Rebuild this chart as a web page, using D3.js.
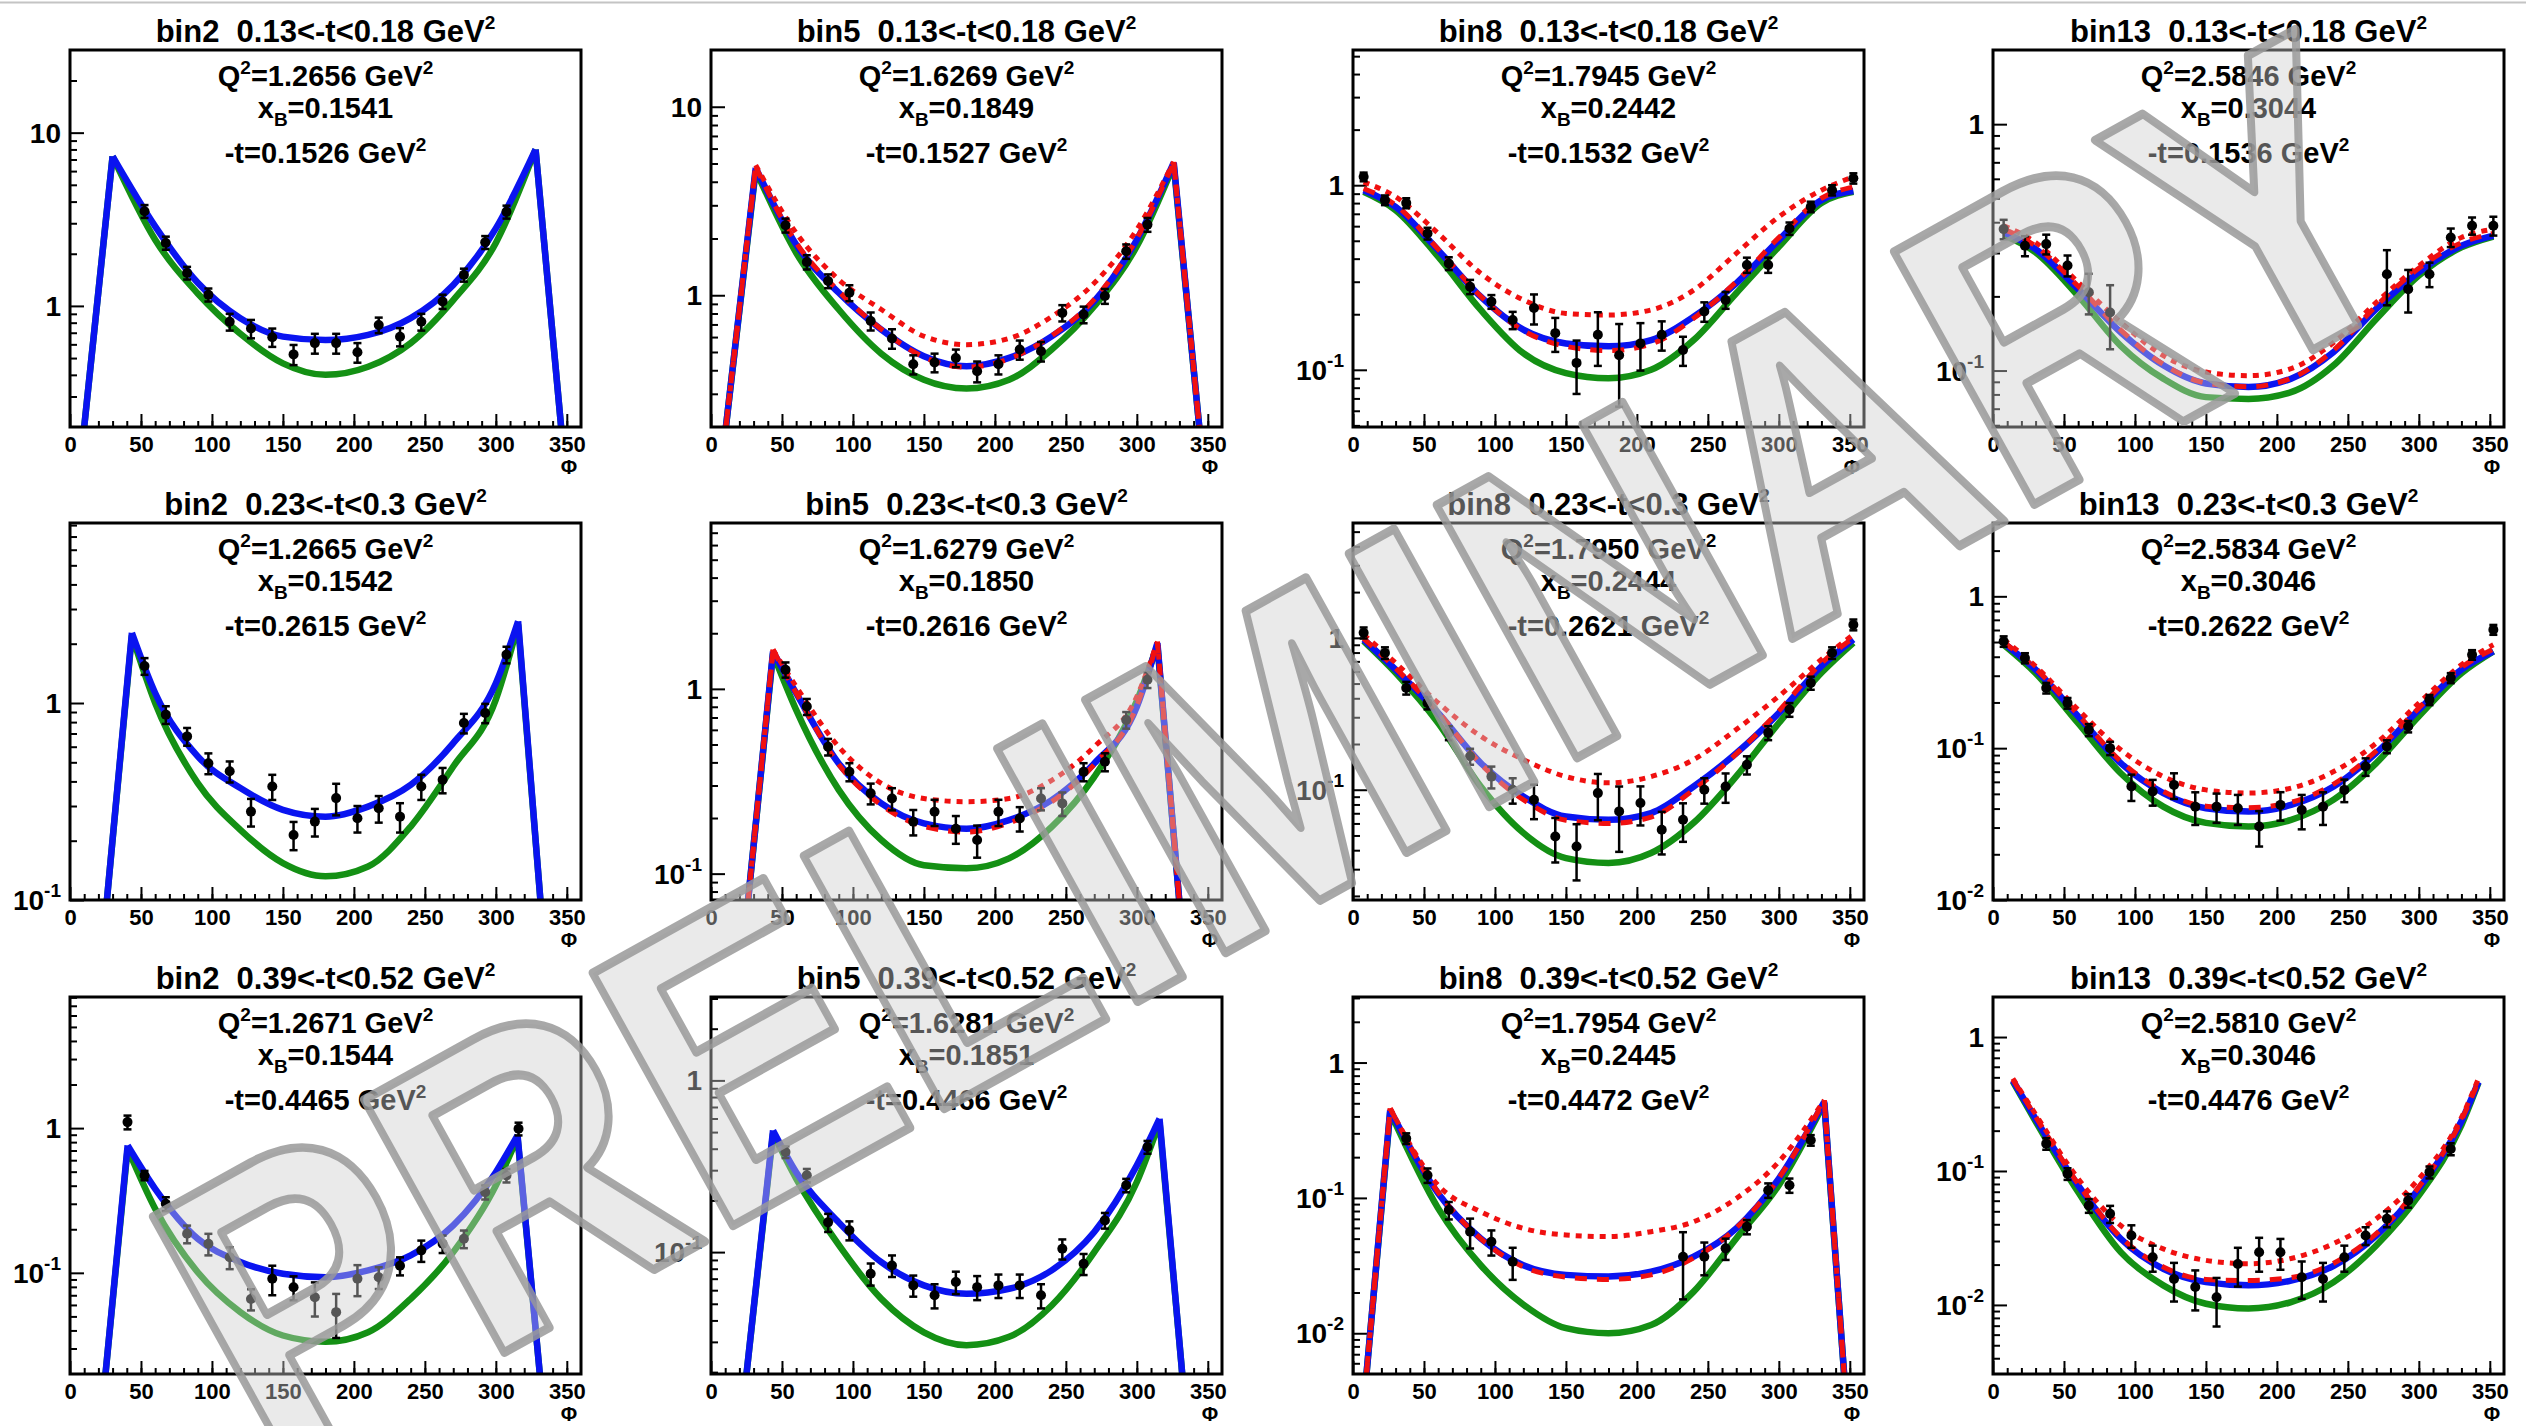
<!DOCTYPE html>
<html>
<head>
<meta charset="utf-8">
<script src="https://cdn.jsdelivr.net/npm/d3@7"></script>
<style>
body { margin: 0; background: #fff; }
svg text { font-family: "Liberation Sans", Arial, Helvetica, sans-serif; font-weight: bold; }
</style>
</head>
<body>
<svg id="chart" width="2526" height="1426"></svg>
<script>
// ---- labels ----
var binNames = ["bin2", "bin5", "bin8", "bin13"];
var tRanges = ["0.13<-t<0.18", "0.23<-t<0.3", "0.39<-t<0.52"];
var q2Vals = ["1.2656", "1.6269", "1.7945", "2.5846",
              "1.2665", "1.6279", "1.7950", "2.5834",
              "1.2671", "1.6281", "1.7954", "2.5810"];
var xbVals = ["0.1541", "0.1849", "0.2442", "0.3044",
              "0.1542", "0.1850", "0.2444", "0.3046",
              "0.1544", "0.1851", "0.2445", "0.3046"];
var tVals = ["0.1526", "0.1527", "0.1532", "0.1536",
             "0.2615", "0.2616", "0.2621", "0.2622",
             "0.4465", "0.4466", "0.4472", "0.4476"];

// y axis ranges (log), row major
var yDomains = [[0.2, 30], [0.2, 20], [0.049, 5.4], [0.059, 2.0],
                [0.1, 8.2], [0.072, 7.9], [0.0188, 5.7], [0.01, 3.04],
                [0.02, 8.05], [0.0195, 3.06], [0.005, 3.05], [0.00305, 1.99]];
var xTicks = [0, 50, 100, 150, 200, 250, 300, 350];

// ---- data points ----
var phi18 = [52.5, 67.5, 82.5, 97.5, 112.5, 127.5, 142.5, 157.5, 172.5, 187.5, 202.5, 217.5, 232.5, 247.5, 262.5, 277.5, 292.5, 307.5];
var phi24 = [7.5, 22.5, 37.5, 52.5, 67.5, 82.5, 97.5, 112.5, 127.5, 142.5, 157.5, 172.5, 187.5, 202.5, 217.5, 232.5, 247.5, 262.5, 277.5, 292.5, 307.5, 322.5, 337.5, 352.5];
var phiB13T1 = [7.5, 22.5, 37.5, 52.5, 67.5, 82.5, 277.5, 292.5, 307.5, 322.5, 337.5, 352.5];
var phiB2T3 = [40.5, 52.5, 67.5, 82.5, 97.5, 112.5, 127.5, 142.5, 157.5, 172.5, 187.5, 202.5, 217.5, 232.5, 247.5, 262.5, 277.5, 292.5, 307.5, 316];
var phiB8T3 = [37.5, 52.5, 67.5, 82.5, 97.5, 112.5, 232.5, 247.5, 262.5, 277.5, 292.5, 307.5, 322.5];
var phiB13T3 = [37.5, 52.5, 67.5, 82.5, 97.5, 112.5, 127.5, 142.5, 157.5, 172.5, 187.5, 202.5, 217.5, 232.5, 247.5, 262.5, 277.5, 292.5, 307.5, 322.5];

var valB2T1 = [3.52, 2.31, 1.55, 1.16, 0.81, 0.74, 0.66, 0.525, 0.61, 0.61, 0.54, 0.776, 0.664, 0.81, 1.06, 1.51, 2.33, 3.49];
var errB2T1 = [0.3, 0.2, 0.13, 0.1, 0.09, 0.09, 0.08, 0.07, 0.08, 0.08, 0.07, 0.08, 0.08, 0.09, 0.1, 0.13, 0.2, 0.3];
var valB5T1 = [2.35, 1.50, 1.19, 1.03, 0.73, 0.59, 0.43, 0.44, 0.465, 0.395, 0.43, 0.515, 0.505, 0.806, 0.79, 0.99, 1.71, 2.37];
var errB5T1 = [0.2, 0.13, 0.1, 0.1, 0.08, 0.07, 0.05, 0.05, 0.05, 0.05, 0.05, 0.06, 0.06, 0.08, 0.08, 0.09, 0.15, 0.2];
var valB8T1 = [1.11, 0.83, 0.80, 0.548, 0.377, 0.282, 0.234, 0.186, 0.216, 0.158, 0.109, 0.155, 0.12, 0.139, 0.155, 0.128, 0.207, 0.239, 0.37, 0.37, 0.583, 0.764, 0.94, 1.09];
var errB8T1 = [0.06, 0.05, 0.05, 0.04, 0.03, 0.025, 0.02, 0.02, 0.04, 0.033, 0.035, 0.05, 0.057, 0.04, 0.028, 0.023, 0.025, 0.025, 0.035, 0.035, 0.045, 0.05, 0.06, 0.07];
var valB13T1 = [0.375, 0.321, 0.326, 0.267, 0.208, 0.172, 0.246, 0.214, 0.246, 0.347, 0.387, 0.387];
var errB13T1 = [0.034, 0.03, 0.03, 0.026, 0.039, 0.05, 0.062, 0.042, 0.028, 0.03, 0.031, 0.034];

var valB2T2 = [1.54, 0.873, 0.677, 0.495, 0.45, 0.281, 0.377, 0.214, 0.25, 0.329, 0.26, 0.292, 0.265, 0.377, 0.408, 0.791, 0.89, 1.76];
var errB2T2 = [0.15, 0.09, 0.07, 0.06, 0.055, 0.045, 0.055, 0.035, 0.04, 0.06, 0.04, 0.045, 0.045, 0.055, 0.06, 0.09, 0.1, 0.17];
var valB5T2 = [1.27, 0.802, 0.486, 0.356, 0.272, 0.255, 0.191, 0.216, 0.175, 0.152, 0.216, 0.199, 0.255, 0.24, 0.356, 0.403, 0.679, 1.12];
var errB5T2 = [0.12, 0.08, 0.05, 0.04, 0.035, 0.035, 0.03, 0.035, 0.03, 0.03, 0.035, 0.03, 0.035, 0.035, 0.04, 0.045, 0.07, 0.11];
var valB8T2 = [1.08, 0.796, 0.468, 0.373, 0.237, 0.166, 0.122, 0.1, 0.086, 0.0492, 0.0423, 0.095, 0.072, 0.0817, 0.0545, 0.0634, 0.1, 0.105, 0.146, 0.237, 0.337, 0.505, 0.796, 1.22];
var errB8T2 = [0.09, 0.07, 0.045, 0.035, 0.025, 0.02, 0.02, 0.019, 0.022, 0.016, 0.017, 0.032, 0.033, 0.0235, 0.017, 0.018, 0.019, 0.023, 0.02, 0.025, 0.035, 0.05, 0.07, 0.1];
var valB13T2 = [0.505, 0.392, 0.249, 0.198, 0.132, 0.1, 0.0559, 0.0518, 0.0573, 0.0412, 0.0412, 0.0402, 0.0305, 0.0423, 0.0392, 0.0412, 0.0531, 0.0757, 0.1026, 0.139, 0.208, 0.29, 0.412, 0.603];
var errB13T2 = [0.04, 0.03, 0.02, 0.016, 0.012, 0.01, 0.011, 0.01, 0.011, 0.01, 0.009, 0.009, 0.008, 0.009, 0.01, 0.01, 0.009, 0.01, 0.01, 0.012, 0.016, 0.022, 0.03, 0.045];

var valB2T3 = [1.1, 0.471, 0.3, 0.186, 0.159, 0.128, 0.066, 0.091, 0.0796, 0.0679, 0.0535, 0.091, 0.0933, 0.112, 0.143, 0.159, 0.172, 0.361, 0.471, 0.99];
var errB2T3 = [0.12, 0.035, 0.033, 0.026, 0.027, 0.022, 0.011, 0.021, 0.015, 0.018, 0.018, 0.022, 0.016, 0.016, 0.024, 0.022, 0.024, 0.04, 0.05, 0.1];
var valB5T3 = [0.383, 0.28, 0.149, 0.134, 0.0748, 0.0836, 0.064, 0.056, 0.0669, 0.0625, 0.064, 0.064, 0.056, 0.1045, 0.0855, 0.153, 0.245, 0.409];
var errB5T3 = [0.03, 0.025, 0.018, 0.017, 0.011, 0.012, 0.009, 0.009, 0.01, 0.01, 0.01, 0.01, 0.009, 0.014, 0.012, 0.016, 0.022, 0.035];
var valB8T3 = [0.275, 0.147, 0.0813, 0.0563, 0.0475, 0.0338, 0.0368, 0.0368, 0.0424, 0.0612, 0.114, 0.124, 0.267];
var errB8T3 = [0.025, 0.018, 0.012, 0.014, 0.01, 0.009, 0.019, 0.01, 0.0076, 0.0074, 0.014, 0.015, 0.024];
var valB13T3 = [0.16, 0.0953, 0.0552, 0.0479, 0.033, 0.0227, 0.0156, 0.0136, 0.0114, 0.0202, 0.0247, 0.0247, 0.0161, 0.0156, 0.0227, 0.033, 0.044, 0.0602, 0.098, 0.146];
var errB13T3 = [0.016, 0.0095, 0.0065, 0.007, 0.0063, 0.005, 0.005, 0.0045, 0.0045, 0.0065, 0.007, 0.0064, 0.005, 0.005, 0.005, 0.005, 0.006, 0.007, 0.01, 0.015];

// ---- model curves (green, blue, red dotted, red dashed) ----
var cphiSmooth = [7.5, 30, 60, 90, 120, 150, 180, 210, 240, 270, 300, 330, 352.5];

var cphiB2T1 = [10, 30, 60, 90, 120, 150, 180, 210, 240, 270, 300, 328, 346];
var blueB2T1 = [0.2, 7.3, 2.88, 1.36, 0.85, 0.665, 0.635, 0.68, 0.85, 1.32, 2.8, 8.0, 0.2];
var greenB2T1 = [0.2, 7.3, 2.41, 1.18, 0.69, 0.466, 0.40, 0.445, 0.61, 1.08, 2.31, 8.0, 0.2];

var cphiB5T1 = [10.5, 31.5, 60, 90, 120, 150, 180, 210, 240, 270, 300, 326, 344];
var blueB5T1 = [0.2, 4.74, 1.86, 1.03, 0.657, 0.475, 0.42, 0.465, 0.605, 0.93, 1.97, 5.05, 0.2];
var greenB5T1 = [0.2, 4.6, 1.68, 0.84, 0.49, 0.356, 0.32, 0.356, 0.515, 0.874, 1.82, 4.9, 0.2];
var rdotB5T1 = [0.2, 4.9, 2.14, 1.21, 0.84, 0.606, 0.547, 0.59, 0.77, 1.16, 2.23, 5.1, 0.2];
var rdashB5T1 = [0.2, 4.8, 1.9, 1.05, 0.66, 0.47, 0.415, 0.46, 0.61, 0.95, 2.0, 5.05, 0.2];

var blueB8T1 = [0.94, 0.764, 0.445, 0.249, 0.165, 0.139, 0.134, 0.145, 0.194, 0.294, 0.504, 0.83, 0.93];
var greenB8T1 = [0.92, 0.733, 0.41, 0.211, 0.123, 0.096, 0.09, 0.1, 0.145, 0.26, 0.464, 0.8, 0.92];
var rdotB8T1 = [1.04, 0.865, 0.548, 0.333, 0.239, 0.202, 0.198, 0.211, 0.27, 0.427, 0.674, 0.94, 1.11];
var rdashB8T1 = [0.96, 0.78, 0.45, 0.25, 0.163, 0.134, 0.127, 0.138, 0.19, 0.30, 0.52, 0.85, 0.98];

var blueB13T1 = [0.364, 0.311, 0.214, 0.143, 0.105, 0.0886, 0.0857, 0.0927, 0.119, 0.178, 0.251, 0.321, 0.353];
var greenB13T1 = [0.355, 0.302, 0.201, 0.126, 0.0927, 0.078, 0.0767, 0.0817, 0.105, 0.162, 0.243, 0.316, 0.35];
var rdotB13T1 = [0.387, 0.331, 0.228, 0.157, 0.115, 0.0986, 0.0953, 0.1018, 0.13, 0.189, 0.266, 0.347, 0.375];
var rdashB13T1 = [0.375, 0.32, 0.22, 0.146, 0.106, 0.089, 0.086, 0.093, 0.121, 0.183, 0.26, 0.33, 0.36];

var cphiB2T2 = [26, 43.6, 60, 90, 120, 150, 180, 210, 240, 270, 300, 315.7, 331.4];
var blueB2T2 = [0.1, 2.27, 1.124, 0.536, 0.37, 0.287, 0.265, 0.298, 0.384, 0.626, 1.26, 2.6, 0.1];
var greenB2T2 = [0.1, 2.2, 1.0, 0.392, 0.227, 0.154, 0.132, 0.148, 0.236, 0.476, 1.04, 2.5, 0.1];

var cphiB5T2 = [26, 43.7, 60, 90, 120, 150, 180, 210, 240, 270, 300, 314.5, 330];
var blueB5T2 = [0.07, 1.59, 0.947, 0.395, 0.24, 0.187, 0.175, 0.195, 0.25, 0.395, 0.8, 1.77, 0.07];
var greenB5T2 = [0.07, 1.55, 0.77, 0.284, 0.152, 0.111, 0.107, 0.121, 0.179, 0.334, 0.86, 1.72, 0.07];
var rdotB5T2 = [0.07, 1.63, 1.03, 0.486, 0.308, 0.255, 0.245, 0.255, 0.32, 0.486, 0.909, 1.8, 0.07];
var rdashB5T2 = [0.07, 1.63, 0.95, 0.39, 0.235, 0.18, 0.168, 0.188, 0.245, 0.39, 0.81, 1.8, 0.07];

var blueB8T2 = [0.975, 0.618, 0.32, 0.15, 0.0901, 0.0667, 0.0634, 0.0702, 0.105, 0.174, 0.32, 0.65, 0.975];
var greenB8T2 = [0.95, 0.588, 0.275, 0.105, 0.052, 0.0355, 0.033, 0.0383, 0.0606, 0.1225, 0.275, 0.588, 0.927];
var rdotB8T2 = [1.05, 0.684, 0.373, 0.225, 0.158, 0.122, 0.111, 0.122, 0.158, 0.249, 0.413, 0.72, 1.05];
var rdashB8T2 = [0.99, 0.63, 0.325, 0.148, 0.086, 0.063, 0.06, 0.066, 0.1, 0.172, 0.33, 0.68, 1.0];

var blueB13T2 = [0.493, 0.329, 0.162, 0.0797, 0.0506, 0.0402, 0.0382, 0.0423, 0.0559, 0.093, 0.179, 0.329, 0.434];
var greenB13T2 = [0.48, 0.312, 0.146, 0.0684, 0.0412, 0.0322, 0.0305, 0.0337, 0.0458, 0.0797, 0.162, 0.312, 0.434];
var rdotB13T2 = [0.52, 0.346, 0.179, 0.0975, 0.065, 0.0531, 0.0506, 0.0545, 0.0701, 0.108, 0.198, 0.354, 0.48];
var rdashB13T2 = [0.5, 0.335, 0.166, 0.082, 0.052, 0.0415, 0.0405, 0.044, 0.058, 0.096, 0.184, 0.34, 0.45];

var cphiB2T3 = [25, 40.6, 60, 90, 120, 150, 180, 210, 240, 270, 300, 315.3, 331];
var blueB2T3 = [0.02, 0.759, 0.381, 0.172, 0.119, 0.0986, 0.0933, 0.104, 0.132, 0.213, 0.496, 0.89, 0.02];
var greenB2T3 = [0.02, 0.72, 0.277, 0.101, 0.0536, 0.0369, 0.0334, 0.0389, 0.0661, 0.139, 0.401, 0.86, 0.02];

var cphiB5T3 = [25, 43.7, 60, 90, 120, 150, 180, 210, 240, 270, 300, 316, 332];
var blueB5T3 = [0.0195, 0.511, 0.292, 0.149, 0.0873, 0.064, 0.0572, 0.0612, 0.0783, 0.131, 0.32, 0.598, 0.0195];
var greenB5T3 = [0.0195, 0.49, 0.268, 0.11, 0.0534, 0.0341, 0.0287, 0.0321, 0.0489, 0.1, 0.256, 0.57, 0.0195];

var cphiB8T3 = [9.5, 26.2, 60, 90, 120, 150, 180, 210, 240, 270, 300, 332, 346];
var blueB8T3 = [0.005, 0.445, 0.108, 0.0502, 0.0318, 0.027, 0.0263, 0.0285, 0.0368, 0.0596, 0.139, 0.513, 0.005];
var greenB8T3 = [0.005, 0.43, 0.0837, 0.0318, 0.0163, 0.0109, 0.01, 0.0115, 0.0203, 0.0502, 0.124, 0.5, 0.005];
var rdotB8T3 = [0.005, 0.458, 0.124, 0.0791, 0.0596, 0.0532, 0.0518, 0.0563, 0.0667, 0.099, 0.185, 0.527, 0.005];
var rdashB8T3 = [0.005, 0.458, 0.11, 0.05, 0.031, 0.026, 0.025, 0.027, 0.036, 0.06, 0.14, 0.527, 0.005];

var cphiB13T3 = [14, 30, 60, 90, 120, 150, 180, 210, 240, 270, 300, 330, 342];
var blueB13T3 = [0.474, 0.245, 0.0782, 0.0312, 0.0186, 0.0148, 0.014, 0.0152, 0.0196, 0.033, 0.0739, 0.235, 0.461];
var greenB13T3 = [0.465, 0.235, 0.0696, 0.0248, 0.014, 0.0102, 0.0094, 0.0105, 0.0148, 0.0278, 0.0657, 0.22, 0.455];
var rdotB13T3 = [0.49, 0.265, 0.0875, 0.0392, 0.0262, 0.0215, 0.0203, 0.0222, 0.0287, 0.044, 0.0875, 0.25, 0.49];
var rdashB13T3 = [0.48, 0.255, 0.08, 0.032, 0.0192, 0.0155, 0.0152, 0.016, 0.0205, 0.034, 0.076, 0.24, 0.47];

// panel table built from the arrays above (row major)
var panels = [
  {phi: phi18, val: valB2T1, err: errB2T1, cphi: cphiB2T1, peaked: true, green: greenB2T1, blue: blueB2T1},
  {phi: phi18, val: valB5T1, err: errB5T1, cphi: cphiB5T1, peaked: true, green: greenB5T1, blue: blueB5T1, rdot: rdotB5T1, rdash: rdashB5T1},
  {phi: phi24, val: valB8T1, err: errB8T1, cphi: cphiSmooth, peaked: false, green: greenB8T1, blue: blueB8T1, rdot: rdotB8T1, rdash: rdashB8T1},
  {phi: phiB13T1, val: valB13T1, err: errB13T1, cphi: cphiSmooth, peaked: false, green: greenB13T1, blue: blueB13T1, rdot: rdotB13T1, rdash: rdashB13T1},
  {phi: phi18, val: valB2T2, err: errB2T2, cphi: cphiB2T2, peaked: true, green: greenB2T2, blue: blueB2T2},
  {phi: phi18, val: valB5T2, err: errB5T2, cphi: cphiB5T2, peaked: true, green: greenB5T2, blue: blueB5T2, rdot: rdotB5T2, rdash: rdashB5T2},
  {phi: phi24, val: valB8T2, err: errB8T2, cphi: cphiSmooth, peaked: false, green: greenB8T2, blue: blueB8T2, rdot: rdotB8T2, rdash: rdashB8T2},
  {phi: phi24, val: valB13T2, err: errB13T2, cphi: cphiSmooth, peaked: false, green: greenB13T2, blue: blueB13T2, rdot: rdotB13T2, rdash: rdashB13T2},
  {phi: phiB2T3, val: valB2T3, err: errB2T3, cphi: cphiB2T3, peaked: true, green: greenB2T3, blue: blueB2T3},
  {phi: phi18, val: valB5T3, err: errB5T3, cphi: cphiB5T3, peaked: true, green: greenB5T3, blue: blueB5T3},
  {phi: phiB8T3, val: valB8T3, err: errB8T3, cphi: cphiB8T3, peaked: true, green: greenB8T3, blue: blueB8T3, rdot: rdotB8T3, rdash: rdashB8T3},
  {phi: phiB13T3, val: valB13T3, err: errB13T3, cphi: cphiB13T3, peaked: false, green: greenB13T3, blue: blueB13T3, rdot: rdotB13T3, rdash: rdashB13T3}
];

// ---- layout ----
var colX = [70, 711, 1353, 1993],
    rowY = [50, 523, 997],
    frameW = 511,
    frameH = 377;

var svg = d3.select("#chart");

svg.append("line")
  .attr("x1", 0).attr("x2", 2526).attr("y1", 2.5).attr("y2", 2.5)
  .style("stroke", "#c4c4c4").style("stroke-width", 2);

function addSup(sel, s, up) {
  sel.append("tspan").attr("dy", -(up || 12)).style("font-size", "19px").text(s);
}

panels.forEach(function(p, i) {
  var col = i % 4, row = Math.floor(i / 4);
  var g = svg.append("g").attr("transform", "translate(" + colX[col] + "," + rowY[row] + ")");

  var x = d3.scaleLinear().domain([0, 360]).range([0, frameW]);
  var y = d3.scaleLog().domain(yDomains[i]).range([frameH, 0]);

  g.append("clipPath").attr("id", "clip" + i)
    .append("rect").attr("width", frameW).attr("height", frameH);

  // axes (ticks inside the frame)
  var xMinor = g.append("g").attr("transform", "translate(0," + frameH + ")")
    .call(d3.axisBottom(x).tickValues(d3.range(10, 360, 10)).tickSize(-6).tickFormat(""));
  var xMajor = g.append("g").attr("transform", "translate(0," + frameH + ")")
    .call(d3.axisBottom(x).tickValues(xTicks).tickSize(-13).tickPadding(9).tickFormat(d3.format("d")));
  xMajor.selectAll("text").style("font-size", "22px").style("fill", "#000");
  [xMinor, xMajor].forEach(function(a) {
    a.select(".domain").remove();
    a.selectAll("line").style("stroke", "#000").style("stroke-width", 2);
  });

  var dom = yDomains[i];
  var lo = Math.floor(Math.log10(dom[0])), hi = Math.ceil(Math.log10(dom[1]));
  var decades = [], minors = [];
  for (var e = lo; e <= hi; e++) {
    var b = Math.pow(10, e);
    if (b >= dom[0] * 0.999 && b <= dom[1]) decades.push(b);
    for (var m = 2; m <= 9; m++) {
      var v = m * b;
      if (v > dom[0] && v < dom[1]) minors.push(v);
    }
  }
  var yMinor = g.append("g").call(d3.axisLeft(y).tickValues(minors).tickSize(-7).tickFormat(""));
  var yMajor = g.append("g").call(d3.axisLeft(y).tickValues(decades).tickSize(-14).tickFormat(""));
  [yMinor, yMajor].forEach(function(a) {
    a.select(".domain").remove();
    a.selectAll("line").style("stroke", "#000").style("stroke-width", 2);
  });
  decades.forEach(function(d) {
    var e = Math.round(Math.log10(d));
    var t = g.append("text").attr("x", -9).attr("y", y(d)).attr("dy", "0.36em")
      .attr("text-anchor", "end").style("font-size", "28px");
    if (e === 0) t.text("1");
    else if (e === 1) t.text("10");
    else { t.append("tspan").text("10"); addSup(t, String(e), 13); }
  });

  g.append("text").attr("x", frameW - 12).attr("y", frameH + 47)
    .attr("text-anchor", "middle").style("font-size", "20px").text("\u03A6");

  // model curves
  var line = d3.line().x(function(d) { return x(d[0]); }).y(function(d) { return y(d[1]); });
  function curvePath(vals) {
    var pts = p.cphi.map(function(f, k) { return [f, vals[k]]; });
    if (!p.peaked) return line.curve(d3.curveMonotoneX)(pts);
    var n = pts.length;
    return line.curve(d3.curveLinear)(pts.slice(0, 2)) +
           line.curve(d3.curveMonotoneX)(pts.slice(1, n - 1)) +
           line.curve(d3.curveLinear)(pts.slice(n - 2));
  }
  var curves = g.append("g").attr("clip-path", "url(#clip" + i + ")");
  curves.append("path").attr("d", curvePath(p.green))
    .style("fill", "none").style("stroke", "#149014").style("stroke-width", 6.5).style("stroke-linejoin", "round");
  curves.append("path").attr("d", curvePath(p.blue))
    .style("fill", "none").style("stroke", "#0a14f0").style("stroke-width", 6.5).style("stroke-linejoin", "round");
  if (p.rdot) {
    curves.append("path").attr("d", curvePath(p.rdot))
      .style("fill", "none").style("stroke", "#f01010").style("stroke-width", 5).style("stroke-dasharray", "6,6");
    curves.append("path").attr("d", curvePath(p.rdash))
      .style("fill", "none").style("stroke", "#f01010").style("stroke-width", 5).style("stroke-dasharray", "12,10");
  }

  // data points with error bars
  var pts = g.append("g");
  p.phi.forEach(function(f, k) {
    var cx = x(f), v = p.val[k], er = p.err[k];
    var y1 = y(v + er), y2 = y(Math.max(v - er, dom[0] * 0.5));
    pts.append("line").attr("x1", cx).attr("x2", cx).attr("y1", y1).attr("y2", y2)
      .style("stroke", "#000").style("stroke-width", 2.5);
    [y1, y2].forEach(function(yy) {
      pts.append("line").attr("x1", cx - 4).attr("x2", cx + 4).attr("y1", yy).attr("y2", yy)
        .style("stroke", "#000").style("stroke-width", 2.5);
    });
    pts.append("circle").attr("cx", cx).attr("cy", y(v)).attr("r", 5).style("fill", "#000");
  });

  // frame
  g.append("rect").attr("width", frameW).attr("height", frameH)
    .style("fill", "none").style("stroke", "#000").style("stroke-width", 3);

  // title
  var title = g.append("text").attr("x", frameW / 2).attr("y", -8)
    .attr("text-anchor", "middle").style("font-size", "31px").style("white-space", "pre");
  title.append("tspan").text(binNames[col] + "  " + tRanges[row] + " GeV");
  addSup(title, "2", 13);

  // kinematics
  var cx0 = frameW / 2;
  var q = g.append("text").attr("x", cx0).attr("y", 36).attr("text-anchor", "middle").style("font-size", "29px");
  q.append("tspan").text("Q");
  addSup(q, "2");
  q.append("tspan").attr("dy", 12).text("=" + q2Vals[i] + " GeV");
  addSup(q, "2");

  var xb = g.append("text").attr("x", cx0).attr("y", 68).attr("text-anchor", "middle").style("font-size", "29px");
  xb.append("tspan").text("x");
  xb.append("tspan").attr("dy", 8).style("font-size", "19px").text("B");
  xb.append("tspan").attr("dy", -8).text("=" + xbVals[i]);

  var tt = g.append("text").attr("x", cx0).attr("y", 113).attr("text-anchor", "middle").style("font-size", "29px");
  tt.append("tspan").text("-t=" + tVals[i] + " GeV");
  addSup(tt, "2");
});

// PRELIMINARY watermark
svg.append("text")
  .attr("transform", "translate(1283,748) rotate(-29)")
  .attr("text-anchor", "middle").attr("dy", "0.36em")
  .attr("textLength", 2480).attr("lengthAdjust", "spacingAndGlyphs")
  .style("font-size", "420px")
  .style("fill", "#cccccc").style("fill-opacity", 0.42)
  .style("stroke", "#999999").style("stroke-opacity", 0.85).style("stroke-width", 9)
  .style("stroke-linejoin", "round")
  .text("PRELIMINARY");
</script>
</body>
</html>
